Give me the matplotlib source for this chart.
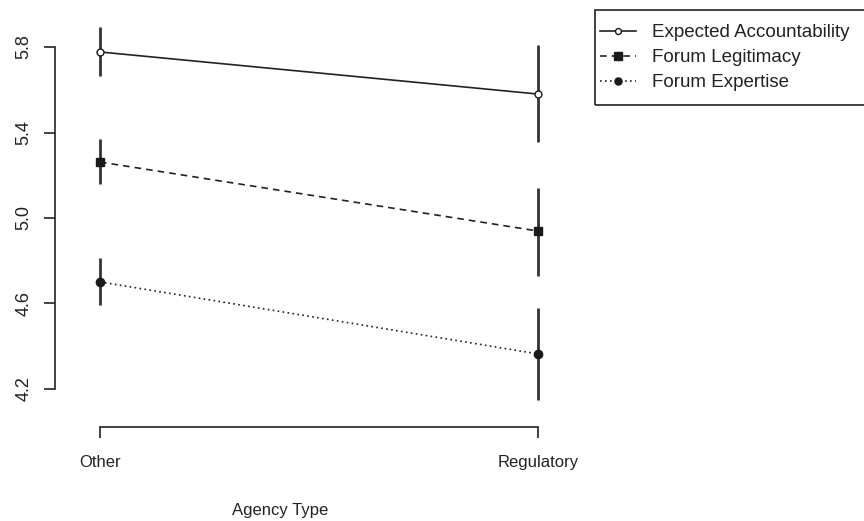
import matplotlib.pyplot as plt
from matplotlib.patches import Rectangle
import numpy as np

plt.rcParams['font.family'] = ['Liberation Sans', 'DejaVu Sans']

# %%
# data
agency = ['Other', 'Regulatory']
series = ['Expected Accountability', 'Forum Legitimacy', 'Forum Expertise']
means = {
    'Expected Accountability': [5.777, 5.58],
    'Forum Legitimacy': [5.262, 4.939],
    'Forum Expertise': [4.701, 4.364],
}
lower = {
    'Expected Accountability': [5.664, 5.356],
    'Forum Legitimacy': [5.159, 4.729],
    'Forum Expertise': [4.593, 4.149],
}
upper = {
    'Expected Accountability': [5.894, 5.81],
    'Forum Legitimacy': [5.37, 5.14],
    'Forum Expertise': [4.813, 4.58],
}
yticks = [4.2, 4.6, 5.0, 5.4, 5.8]

styles = {
    'Expected Accountability': dict(ls='-', marker='o', mfc='white', ms=5),
    'Forum Legitimacy': dict(ls=(0, (4, 3)), marker='s', mfc='#1a1a1a', ms=6),
    'Forum Expertise': dict(ls=(0, (1, 2)), marker='o', mfc='#1a1a1a', ms=6),
}

# %%
W, H = 864, 521
fig = plt.figure(figsize=(W / 100, H / 100), dpi=100)
ax = fig.add_axes([55 / W, 1 - 427 / H, (582 - 55) / W, (427 - 9) / H])

x = np.arange(1, len(agency) + 1)
for name in series:
    m = np.array(means[name])
    lo = np.array(lower[name])
    hi = np.array(upper[name])
    ax.vlines(x, lo, hi, color='#333333', lw=2)
    st = styles[name]
    ax.plot(x, m, color='#222222', lw=1.2, ls=st['ls'], marker=st['marker'],
            mfc=st['mfc'], mec='#1a1a1a', ms=st['ms'], mew=1.0, label=name)

ax.set_xlim(1 - 45 / 438, 1 + 482 / 438)
ax.set_ylim(4.022, 5.978)

for s in ['top', 'right']:
    ax.spines[s].set_visible(False)
ax.spines['left'].set_bounds(4.2, 5.8)
ax.spines['bottom'].set_bounds(1, 2)
for s in ['left', 'bottom']:
    ax.spines[s].set_linewidth(1.2)
    ax.spines[s].set_color('#222222')

ax.set_yticks(yticks)
ax.set_yticklabels([f'{v:.1f}' for v in yticks], rotation=90, va='center')
ax.set_xticks(x)
ax.set_xticklabels(agency)
ax.tick_params(axis='y', length=8, width=1.2, color='#222222', pad=8,
               labelsize=13, labelcolor='#222222')
ax.tick_params(axis='x', length=8, width=1.2, color='#222222', pad=12,
               labelsize=12, labelcolor='#222222')

ax.set_xlabel('Agency Type', fontsize=12, color='#222222')
ax.xaxis.set_label_coords((280 - 55) / (582 - 55), (427 - 510) / (427 - 9))
ax.xaxis.label.set_va('center')

# legend with its own frame (cut by the right edge)
fig.patches.append(Rectangle((595 / W, 1 - 105 / H), 280 / W, 95 / H,
                             transform=fig.transFigure, fill=False,
                             ec='#222222', lw=1.2))
ax.legend(loc='center left', bbox_to_anchor=(600 / W, 1 - 57.5 / H),
          bbox_transform=fig.transFigure, frameon=False, fontsize=13.5,
          borderpad=0, borderaxespad=0, handlelength=1.9, markerscale=0.85,
          handletextpad=0.85, labelspacing=0.42, labelcolor='#222222')

plt.savefig('out.png', facecolor='white')
plt.close()
